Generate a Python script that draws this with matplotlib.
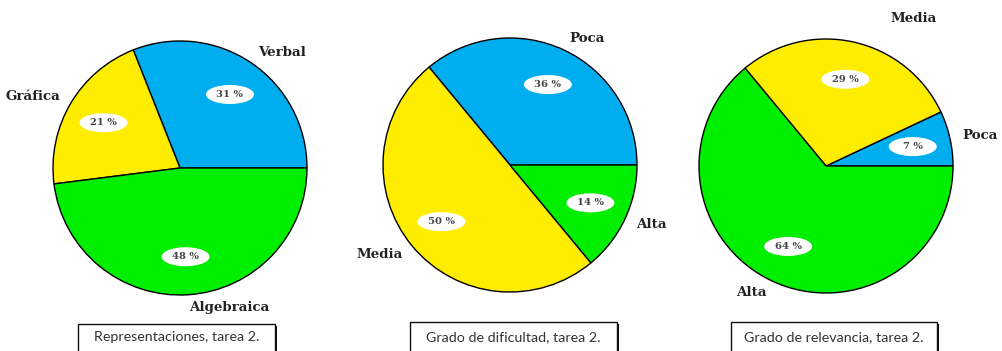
import numpy as np
import matplotlib
matplotlib.use("Agg")
import matplotlib.pyplot as plt
from matplotlib.patches import Rectangle, Ellipse

# --- data -------------------------------------------------------------
rep_labels = ["Verbal", "Gráfica", "Algebraica"]
rep_values = [31, 21, 48]
rep_colors = ["#00aeef", "#ffed00", "#00ee00"]

dif_labels = ["Poca", "Media", "Alta"]
dif_values = [36, 50, 14]
dif_colors = ["#00aeef", "#ffed00", "#00ee00"]

rel_labels = ["Poca", "Media", "Alta"]
rel_values = [7, 29, 64]
rel_colors = ["#00aeef", "#ffed00", "#00ee00"]

captions = ["Representaciones, tarea 2.",
            "Grado de dificultad, tarea 2.",
            "Grado de relevancia, tarea 2."]

W, H = 1002, 351
fig = plt.figure(figsize=(W / 100, H / 100), dpi=100)
ax = fig.add_axes([0, 0, 1, 1])

label_font = dict(family="DejaVu Serif", weight="bold", size=9.6, color="#222222")
pct_font = dict(family="DejaVu Serif", size=7.2, color="#444444")

def draw_pie(values, labels, colors, cx, cy, r):
    wedges, texts, autotexts = ax.pie(
        values, labels=labels, colors=colors, startangle=0,
        counterclock=True, center=(cx, H - cy), radius=r,
        labeldistance=1.1, pctdistance=0.7,
        autopct=lambda p: f"{p:.0f} %",
        wedgeprops=dict(edgecolor="black", linewidth=1.0),
        textprops=label_font, frame=True)
    # align each outer label away from the pie centre
    for w, t in zip(wedges, texts):
        mid = np.deg2rad((w.theta1 + w.theta2) / 2)
        t.set_ha("left" if np.cos(mid) > 0 else "right")
    # percentage labels on white ovals
    for t in autotexts:
        t.set(**pct_font)
        t.set_zorder(6)
        ax.add_patch(Ellipse(t.get_position(), 48, 19, fc="white",
                             ec="none", zorder=5))
    return wedges, texts, autotexts

draw_pie(rep_values, rep_labels, rep_colors, 180, 168, 127)
draw_pie(dif_values, dif_labels, dif_colors, 510, 165, 127)
_, rel_texts, _ = draw_pie(rel_values, rel_labels, rel_colors, 826, 166, 127)
# the "Media" label of the last pie sits above the pie, to the right
rel_texts[1].set_position((890, H - 18))
rel_texts[1].set_ha("left")

# caption boxes with a drop shadow on the right and bottom
boxes = [(78, 275, 324), (410, 617, 322), (731, 937, 322)]
for (x0, x1, top), cap in zip(boxes, captions):
    ax.add_patch(Rectangle((x0 + 2, -5), x1 - x0, H - top + 3,
                           fc="#111111", ec="none", zorder=3))
    ax.add_patch(Rectangle((x0, -5), x1 - x0, H - top + 5,
                           fc="white", ec="#111111", lw=1.0, zorder=4))
    ax.text((x0 + x1) / 2, H - 337, cap, ha="center", va="center",
            family="Lato", size=10.3, color="#333333", zorder=5)

ax.set_xlim(0, W)
ax.set_ylim(0, H)
ax.set_aspect("auto")
ax.axis("off")

fig.savefig("out.png", dpi=100, facecolor="white")
